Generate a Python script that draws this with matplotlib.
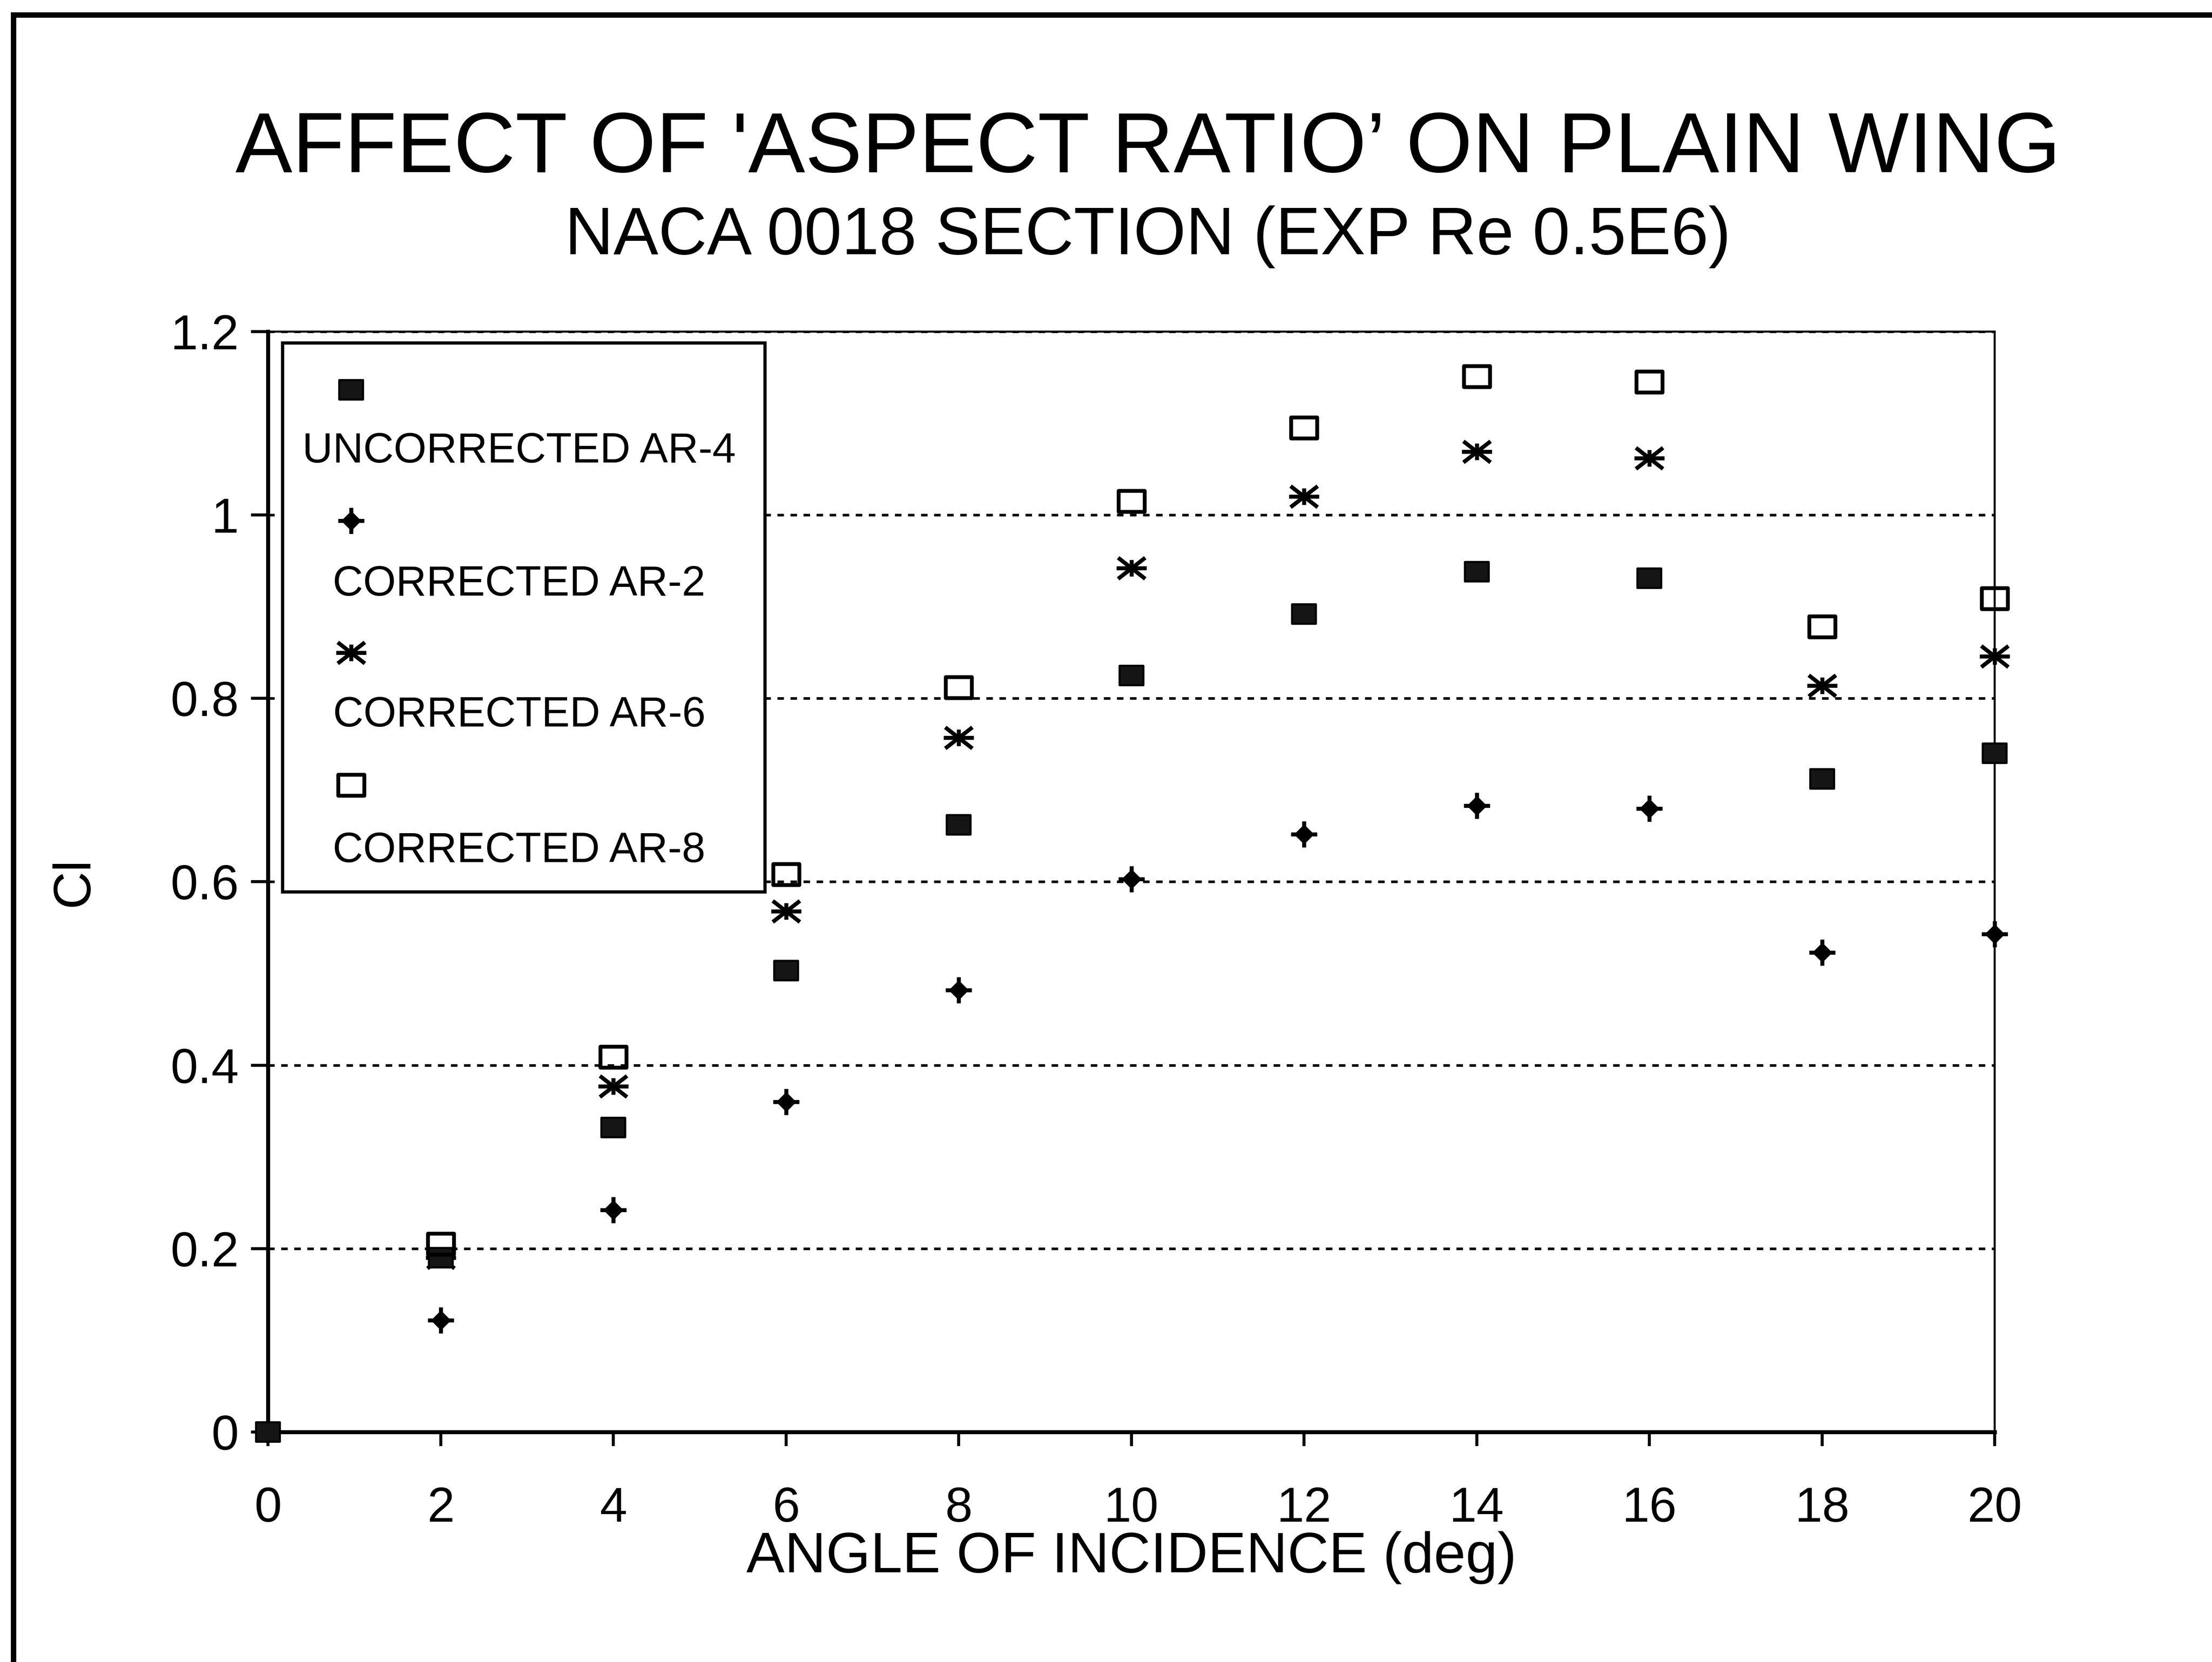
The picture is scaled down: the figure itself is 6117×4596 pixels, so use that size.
"""
Lift coefficient vs angle of incidence for a plain NACA 0018 wing,
uncorrected AR-4 data and corrected values for AR 2, 6 and 8.
"""

import matplotlib
matplotlib.use("Agg")
import matplotlib.pyplot as plt
from matplotlib.path import Path
from matplotlib.patches import Rectangle
from matplotlib.lines import Line2D

plt.rcParams['font.family'] = ['Liberation Sans', 'DejaVu Sans']


# ---------------------------------------------------------------------
# DATA
# ---------------------------------------------------------------------

angle_uncorr = [0, 2, 4, 6, 8, 10, 12, 14, 16, 18, 20]
angle_corr = [2, 4, 6, 8, 10, 12, 14, 16, 18, 20]

cl_uncorr_ar4 = [0.0, 0.19, 0.332, 0.503, 0.662, 0.825, 0.892, 0.938, 0.931, 0.712, 0.74]
cl_corr_ar2 = [0.122, 0.242, 0.36, 0.482, 0.603, 0.652, 0.683, 0.68, 0.523, 0.543]
cl_corr_ar6 = [0.19, 0.377, 0.568, 0.757, 0.942, 1.02, 1.069, 1.062, 0.814, 0.846]
cl_corr_ar8 = [0.205, 0.409, 0.608, 0.812, 1.015, 1.095, 1.151, 1.145, 0.878, 0.909]

series_labels = ["UNCORRECTED AR-4", "CORRECTED AR-2", "CORRECTED AR-6", "CORRECTED AR-8"]

x_ticks = [0, 2, 4, 6, 8, 10, 12, 14, 16, 18, 20]
y_ticks = [0, 0.2, 0.4, 0.6, 0.8, 1.0, 1.2]
y_tick_labels = ["0", "0.2", "0.4", "0.6", "0.8", "1", "1.2"]

title = "AFFECT OF 'ASPECT RATIO\u2019 ON PLAIN WING"
subtitle = "NACA 0018 SECTION (EXP Re 0.5E6)"


# ---------------------------------------------------------------------
# MARKER SHAPES
# ---------------------------------------------------------------------

M, L, C = Path.MOVETO, Path.LINETO, Path.CLOSEPOLY

# slightly wide rectangle (used filled and open)
rect_marker = Path([(-1, -0.8), (1, -0.8), (1, 0.8), (-1, 0.8), (-1, -0.8)],
                   [M, L, L, L, C])

# asterisk: horizontal bar, two flat diagonals, short vertical stub
star_marker = Path([(-1, 0), (1, 0),
                    (-0.9, 0.7), (0.9, -0.7),
                    (-0.9, -0.7), (0.9, 0.7),
                    (0, 0.55), (0, -0.55)],
                   [M, L, M, L, M, L, M, L])

# small diamond with a cross through it
cross_marker = Path([(0, 0.55), (0.55, 0), (0, -0.55), (-0.55, 0), (0, 0.55),
                     (-1, 0), (1, 0),
                     (0, 1), (0, -1)],
                    [M, L, L, L, C, M, L, M, L])

styles = [
    dict(marker=rect_marker, ms=12, mfc="#151515", mec="black", mew=1.0),
    dict(marker=cross_marker, ms=13, mfc="black", mec="black", mew=2.0),
    dict(marker=star_marker, ms=15, mfc="none", mec="black", mew=2.0),
    dict(marker=rect_marker, ms=13, mfc="none", mec="black", mew=1.9),
]


# ---------------------------------------------------------------------
# FIGURE
# ---------------------------------------------------------------------

fig = plt.figure(figsize=(6117 / 400, 4596 / 400), dpi=400)
ax = fig.add_axes([0.1212, 0.1384, 0.7806, 0.6621])

ax.plot(angle_corr, cl_corr_ar6, linestyle="none", clip_on=False, zorder=3, **styles[2])
ax.plot(angle_uncorr, cl_uncorr_ar4, linestyle="none", clip_on=False, zorder=4, **styles[0])
ax.plot(angle_corr, cl_corr_ar2, linestyle="none", clip_on=False, zorder=4, **styles[1])
ax.plot(angle_corr, cl_corr_ar8, linestyle="none", clip_on=False, zorder=5, **styles[3])

ax.set_xlim(0, 20)
ax.set_ylim(0, 1.2)
ax.set_xticks(x_ticks)
ax.set_xticklabels([str(v) for v in x_ticks])
ax.set_yticks(y_ticks)
ax.set_yticklabels(y_tick_labels)

ax.yaxis.grid(True, linestyle=(0, (2.5, 2.5)), linewidth=1.3, color="black")
ax.set_axisbelow(True)

ax.spines["left"].set_linewidth(2.0)
ax.spines["bottom"].set_linewidth(2.0)
ax.spines["top"].set_linewidth(1.0)
ax.spines["right"].set_linewidth(1.0)

ax.tick_params(axis="y", direction="out", length=8.5, width=1.5, pad=6, labelsize=24.5)
ax.tick_params(axis="x", direction="out", length=7, width=1.5, pad=20, labelsize=24.5)

ax.set_xlabel("ANGLE OF INCIDENCE (deg)", fontsize=28.5)
ax.xaxis.set_label_coords(0.5, -0.09)
ax.set_ylabel("Cl", fontsize=26)
ax.yaxis.set_label_coords(-0.098, 0.5)


# ---------------------------------------------------------------------
# LEGEND (marker above each label, drawn in axes coordinates)
# ---------------------------------------------------------------------

ax.add_patch(Rectangle((0.0082, 0.491), 0.2794, 0.4987, transform=ax.transAxes,
                       facecolor="white", edgecolor="black", linewidth=1.6, zorder=6))

legend_marker_y = [0.947, 0.828, 0.708, 0.588]
legend_text_y = [0.891, 0.770, 0.651, 0.528]

for style, label, my, ty in zip(styles, series_labels, legend_marker_y, legend_text_y):
    ax.plot([0.048], [my], transform=ax.transAxes, linestyle="none",
            clip_on=False, zorder=7, **style)
    ax.text(0.1454, ty, label, transform=ax.transAxes, ha="center", va="center",
            fontsize=21, zorder=7)


# ---------------------------------------------------------------------
# TITLES AND PAGE FRAME
# ---------------------------------------------------------------------

fig.text(0.519, 0.8964, title, ha="center", va="baseline", fontsize=42.5)
fig.text(0.519, 0.847, subtitle, ha="center", va="baseline", fontsize=33.5)

fig.add_artist(Line2D([0.006, 0.006], [0.0, 0.991], transform=fig.transFigure,
                      color="black", linewidth=2.7))
fig.add_artist(Line2D([0.006, 1.0], [0.991, 0.991], transform=fig.transFigure,
                      color="black", linewidth=2.7))

fig.savefig("out.png", dpi=400, facecolor="white")
